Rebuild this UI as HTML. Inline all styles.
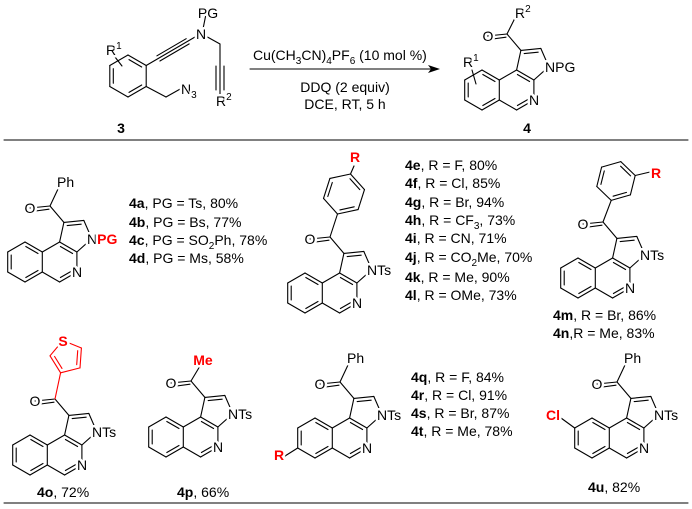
<!DOCTYPE html>
<html><head><meta charset="utf-8"><style>
html,body{margin:0;padding:0;background:#fff}
svg{display:block}
text{font-family:"Liberation Sans",Arial,sans-serif;font-size:14px;fill:#000}
.h{paint-order:stroke;stroke:#fff;stroke-width:5px;stroke-linejoin:round}
.r{fill:#f00;font-weight:bold}
.b{font-weight:bold}
</style></head><body>
<svg id="s" width="692" height="509" viewBox="0 0 692 509" xmlns="http://www.w3.org/2000/svg">
<g id="bonds" stroke="#000" stroke-width="1.1" fill="none" stroke-linecap="round"></g>
<g id="txt">
<!-- reactant 3 -->
<text class="h" x="208" y="18" text-anchor="middle">PG</text>
<text class="h" x="201" y="39" text-anchor="middle">N</text>
<text class="h" x="106" y="55">R<tspan font-size="10" dy="-6">1</tspan></text>
<text class="h" x="181" y="94">N<tspan font-size="10" dy="4">3</tspan></text>
<text class="h" x="216" y="106">R<tspan font-size="10" dy="-6">2</tspan></text>
<text class="b" x="121" y="133" text-anchor="middle">3</text>
<!-- reagents -->
<text x="253" y="60">Cu(CH<tspan font-size="10" dy="4">3</tspan><tspan dy="-4">CN)</tspan><tspan font-size="10" dy="4">4</tspan><tspan dy="-4">PF</tspan><tspan font-size="10" dy="4">6</tspan><tspan dy="-4"> (10 mol %)</tspan></text>
<text x="345" y="92" text-anchor="middle">DDQ (2 equiv)</text>
<text x="345" y="109" text-anchor="middle">DCE, RT, 5 h</text>
<!-- product 4 -->
<text class="h" x="534" y="105" text-anchor="middle">N</text>
<text class="h" x="545" y="72">NPG</text>
<text class="h" x="488" y="41" text-anchor="middle">O</text>
<text class="h" x="515" y="18">R<tspan font-size="10" dy="-6">2</tspan></text>
<text class="h" x="463" y="67">R<tspan font-size="10" dy="-6">1</tspan></text>
<text class="b" x="527" y="133" text-anchor="middle">4</text>
<!-- 4a -->
<text class="h" x="77" y="277" text-anchor="middle">N</text>
<text class="h" x="87" y="244">N<tspan class="r">PG</tspan></text>
<text class="h" x="30" y="213" text-anchor="middle">O</text>
<text class="h" x="57" y="187">Ph</text>
<text x="129" y="208"><tspan class="b">4a</tspan>, PG = Ts, 80%</text>
<text x="129" y="227"><tspan class="b">4b</tspan>, PG = Bs, 77%</text>
<text x="129" y="245"><tspan class="b">4c</tspan>, PG = SO<tspan font-size="10" dy="4">2</tspan><tspan dy="-4">Ph, 78%</tspan></text>
<text x="129" y="263"><tspan class="b">4d</tspan>, PG = Ms, 58%</text>
<!-- 4e -->
<text class="h" x="357" y="308" text-anchor="middle">N</text>
<text class="h" x="367" y="275">NTs</text>
<text class="h" x="310" y="244" text-anchor="middle">O</text>
<text class="h r" x="355" y="162" text-anchor="middle">R</text>
<text x="405" y="170"><tspan class="b">4e</tspan>, R = F, 80%</text>
<text x="405" y="188"><tspan class="b">4f</tspan>, R = Cl, 85%</text>
<text x="405" y="207"><tspan class="b">4g</tspan>, R = Br, 94%</text>
<text x="405" y="225"><tspan class="b">4h</tspan>, R = CF<tspan font-size="10" dy="4">3</tspan><tspan dy="-4">, 73%</tspan></text>
<text x="405" y="243"><tspan class="b">4i</tspan>, R = CN, 71%</text>
<text x="405" y="262"><tspan class="b">4j</tspan>, R = CO<tspan font-size="10" dy="4">2</tspan><tspan dy="-4">Me, 70%</tspan></text>
<text x="405" y="282"><tspan class="b">4k</tspan>, R = Me, 90%</text>
<text x="405" y="300"><tspan class="b">4l</tspan>, R = OMe, 73%</text>
<!-- 4m -->
<text class="h" x="630" y="293" text-anchor="middle">N</text>
<text class="h" x="640" y="260">NTs</text>
<text class="h" x="583" y="229" text-anchor="middle">O</text>
<text class="h r" x="651" y="178">R</text>
<text x="553" y="320"><tspan class="b">4m</tspan>, R = Br, 86%</text>
<text x="553" y="338"><tspan class="b">4n</tspan>,R = Me, 83%</text>
<!-- 4o -->
<text class="h" x="82" y="470" text-anchor="middle">N</text>
<text class="h" x="92" y="437">NTs</text>
<text class="h" x="35" y="406" text-anchor="middle">O</text>
<text class="h r" x="63" y="346" text-anchor="middle">S</text>
<text x="37" y="497"><tspan class="b">4o</tspan>, 72%</text>
<!-- 4p -->
<text class="h" x="218" y="452" text-anchor="middle">N</text>
<text class="h" x="228" y="419">NTs</text>
<text class="h" x="171" y="388" text-anchor="middle">O</text>
<text class="h r" x="203" y="365" text-anchor="middle">Me</text>
<text x="177" y="497"><tspan class="b">4p</tspan>, 66%</text>
<!-- 4q -->
<text class="h" x="367" y="453" text-anchor="middle">N</text>
<text class="h" x="377" y="420">NTs</text>
<text class="h" x="320" y="389" text-anchor="middle">O</text>
<text class="h" x="347" y="363">Ph</text>
<text class="h r" x="279" y="460" text-anchor="middle">R</text>
<text x="411" y="382"><tspan class="b">4q</tspan>, R = F, 84%</text>
<text x="411" y="400"><tspan class="b">4r</tspan>, R = Cl, 91%</text>
<text x="411" y="418"><tspan class="b">4s</tspan>, R = Br, 87%</text>
<text x="411" y="436"><tspan class="b">4t</tspan>, R = Me, 78%</text>
<!-- 4u -->
<text class="h" x="644" y="453" text-anchor="middle">N</text>
<text class="h" x="654" y="420">NTs</text>
<text class="h" x="597" y="389" text-anchor="middle">O</text>
<text class="h" x="624" y="363">Ph</text>
<text class="h r" x="553" y="420" text-anchor="middle">Cl</text>
<text x="588" y="492"><tspan class="b">4u</tspan>, 82%</text>
</g>
</svg>
<script>
var out=[];
function L(a,b,c){out.push('<line x1="'+a[0].toFixed(1)+'" y1="'+a[1].toFixed(1)+'" x2="'+b[0].toFixed(1)+'" y2="'+b[1].toFixed(1)+'"'+(c?' stroke="'+c+'"':'')+'/>');}
function D(a,b,cen,c){
  var mx=(a[0]+b[0])/2,my=(a[1]+b[1])/2,dx=cen[0]-mx,dy=cen[1]-my,d=Math.hypot(dx,dy);
  var ox=dx/d*3.5,oy=dy/d*3.5,f=0.15;
  var a2=[a[0]+(b[0]-a[0])*f+ox,a[1]+(b[1]-a[1])*f+oy],b2=[b[0]+(a[0]-b[0])*f+ox,b[1]+(a[1]-b[1])*f+oy];
  L(a2,b2,c);
}
function P(pts,o){return pts.map(function(p){return [p[0]+o[0],p[1]+o[1]];});}
function ringPts(cx,cy,r,a0,n){var p=[];for(var i=0;i<n;i++){var a=(a0+i*360/n)*Math.PI/180;p.push([cx+r*Math.cos(a),cy+r*Math.sin(a)]);}return p;}
function poly(p,c){for(var i=0;i<p.length;i++)L(p[i],p[(i+1)%p.length],c);}
function core(ox,oy,sub){
  var o=[ox,oy];
  var A=P([[0,-20],[17.3,-10],[17.3,10],[0,20],[-17.3,10],[-17.3,-10]],o);
  var p0=P([[34.6,-20]],o)[0],p1=P([[51.9,-10]],o)[0],n=P([[51.9,10]],o)[0],p3=P([[34.6,20]],o)[0];
  var c3=P([[38.9,-39.6]],o)[0],c2=P([[58.8,-41.6]],o)[0],n1=P([[66.8,-23.3]],o)[0];
  var bc=[ox,oy],pc=[ox+34.6,oy],rc=[ox+50.2,oy-26.9];
  poly(A);
  D(A[0],A[1],bc);D(A[2],A[3],bc);D(A[4],A[5],bc);
  L(A[1],p0);L(p0,p1);L(p1,n);L(n,p3);L(p3,A[2]);
  D(n,p3,pc);D(p0,p1,pc);
  L(p0,c3);L(c3,c2);L(c2,n1);L(n1,p1);
  D(c3,c2,rc);
  var cc=[ox+25,oy-56],O=[ox+5,oy-54];
  L(c3,cc);L(cc,O);
  L([cc[0]-1,cc[1]+3.2],[O[0]+2,O[1]+3.5]);
  if(sub)L(cc,[ox+sub[0],oy+sub[1]]);
  return {A:A,cc:cc};
}
L([4,140],[688,140]);L([4,503],[688,503]);
L([250,69],[432,69]);
out.push('<polygon points="440,69 428,65 431,69 428,73" fill="#000" stroke="none"/>');
// reactant 3
var R3=ringPts(128,76,21,-90,6);poly(R3);
D(R3[0],R3[1],[128,76]);D(R3[2],R3[3],[128,76]);D(R3[4],R3[5],[128,76]);
(function(){var a=R3[1],b=[195,37],dx=b[0]-a[0],dy=b[1]-a[1],d=Math.hypot(dx,dy),nx=-dy/d*3,ny=dx/d*3;
 L(a,b);L([a[0]+dx*.25+nx,a[1]+dy*.25+ny],[a[0]+dx*.85+nx,a[1]+dy*.85+ny]);L([a[0]+dx*.25-nx,a[1]+dy*.25-ny],[a[0]+dx*.85-nx,a[1]+dy*.85-ny]);})();
L([202,34],[206,14]);
L([202,34],[220,44]);L([220,44],[220,94]);
L([216,66],[216,90]);L([224,66],[224,90]);
L(R3[2],[166,97]);L([166,97],[182,88]);
L([115,57],[122,66]);
// product 4
core(482,90,[33,-72]);
L([472,70],[476,84]);
core(25,262,[33,-73]);
var c=core(305,293,null);
var Re=ringPts(344,194,21,108,6);L(c.cc,Re[0]);poly(Re);
D(Re[1],Re[2],[344,194]);D(Re[3],Re[4],[344,194]);D(Re[5],Re[0],[344,194]);L(Re[3],[354,166]);
c=core(578,278,null);
var Rm=ringPts(616,181,20,104,6);L(c.cc,Rm[0]);poly(Rm);
D(Rm[1],Rm[2],[616,181]);D(Rm[3],Rm[4],[616,181]);D(Rm[5],Rm[0],[616,181]);L(Rm[4],[650,172]);
c=core(30,455,null);
var Th=ringPts(67,357,17,112,5);L(c.cc,Th[0],'#f00');poly(Th,'#f00');
D(Th[1],Th[0],[67,357],'#f00');D(Th[3],Th[4],[67,357],'#f00');
core(166,437,[34,-71]);
core(315,438,[33,-73]);
L([297.7,448],[285,456]);
core(592,438,[33,-73]);
L([574.7,428],[561,418]);
document.getElementById('bonds').innerHTML=out.join('');
</script>
</body></html>
